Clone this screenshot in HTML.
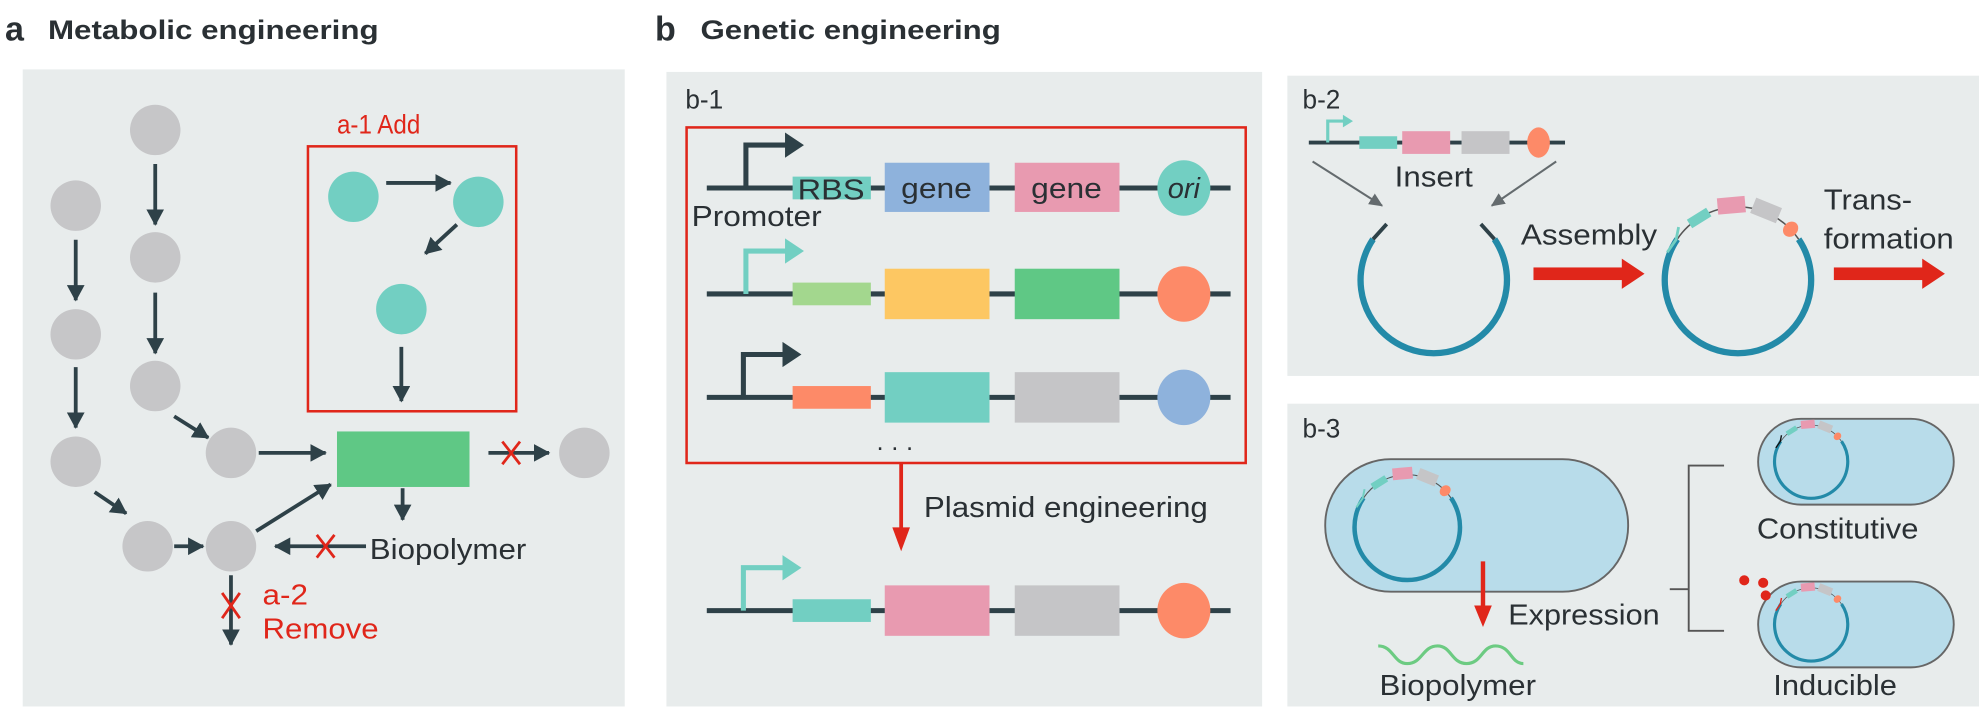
<!DOCTYPE html>
<html><head><meta charset="utf-8"><style>
html,body{margin:0;padding:0;background:#fff;width:1979px;height:709px;overflow:hidden}
svg{display:block}
text{font-family:"Liberation Sans",Arial,sans-serif}
</style></head><body>
<svg width="1979" height="709" viewBox="0 0 1568 562" preserveAspectRatio="none" xmlns="http://www.w3.org/2000/svg">
<defs>
<marker id="ah" markerUnits="userSpaceOnUse" markerWidth="14" markerHeight="14" refX="12" refY="7" orient="auto"><path d="M0,0 L13,7 L0,14 Z" fill="#2e4148"/></marker>
<marker id="ag" markerUnits="userSpaceOnUse" markerWidth="12" markerHeight="12" refX="10" refY="6" orient="auto"><path d="M0,1 L11,6 L0,11 Z" fill="#646b6e"/></marker>
<g id="pbody">
<path d="M-48.1,-32.4 A58,58 0 1,0 48.1,-32.4" fill="none" stroke="#238aa8" stroke-width="5"/>
<path d="M-48.1,-32.4 A58,58 0 0,1 48.1,-32.4" fill="none" stroke="#555" stroke-width="1.2"/>
<rect x="-9" y="-62" width="18" height="8" fill="#72cfc2" transform="rotate(-32)"/>
<rect x="-11" y="-66" width="22" height="13" fill="#e89ab0" transform="rotate(-5)"/>
<rect x="-11" y="-66" width="22" height="13" fill="#c5c5c7" transform="rotate(22)"/>
<ellipse cx="0" cy="-58" rx="5.5" ry="6.5" fill="#fd8a68" transform="rotate(46)"/>
</g>
<path id="prom" d="M-56,-22 L-49,-32 L-47,-42" fill="none" stroke-width="2.2"/>
</defs>

<!-- titles -->
<text x="4" y="32" font-size="27" font-weight="bold" fill="#2a3034">a</text>
<text x="38" y="31" font-size="21" font-weight="bold" fill="#2a3034" textLength="262" lengthAdjust="spacingAndGlyphs">Metabolic engineering</text>
<text x="519" y="32" font-size="27" font-weight="bold" fill="#2a3034">b</text>
<text x="555" y="31" font-size="21" font-weight="bold" fill="#2a3034" textLength="238" lengthAdjust="spacingAndGlyphs">Genetic engineering</text>

<!-- panels -->
<rect x="18" y="55" width="477" height="505" fill="#e8ecec"/>
<rect x="528" y="57" width="472" height="503" fill="#e8ecec"/>
<rect x="1020" y="60" width="548" height="238" fill="#e8ecec"/>
<rect x="1020" y="320" width="548" height="240" fill="#e8ecec"/>

<!-- panel a -->
<g fill="#c6c6c8">
<circle cx="60" cy="163" r="20"/><circle cx="60" cy="265" r="20"/><circle cx="60" cy="366" r="20"/>
<circle cx="123" cy="103" r="20"/><circle cx="123" cy="204" r="20"/><circle cx="123" cy="306" r="20"/>
<circle cx="183" cy="359" r="20"/><circle cx="117" cy="433" r="20"/><circle cx="183" cy="433" r="20"/>
<circle cx="463" cy="359" r="20"/>
</g>
<g fill="#72cfc2">
<circle cx="280" cy="156" r="20"/><circle cx="379" cy="160" r="20"/><circle cx="318" cy="245" r="20"/>
</g>
<rect x="244" y="116" width="165" height="210" fill="none" stroke="#e0261a" stroke-width="2"/>
<text x="267" y="106" font-size="21" fill="#e0261a" textLength="66" lengthAdjust="spacingAndGlyphs">a-1 Add</text>
<rect x="267" y="342" width="105" height="44" fill="#5fc885"/>
<g stroke="#2e4148" stroke-width="3" marker-end="url(#ah)">
<line x1="60" y1="190" x2="60" y2="238"/>
<line x1="60" y1="291" x2="60" y2="339"/>
<line x1="123" y1="130" x2="123" y2="178"/>
<line x1="123" y1="232" x2="123" y2="280"/>
<line x1="138" y1="330" x2="165" y2="347"/>
<line x1="75" y1="390" x2="100" y2="407"/>
<line x1="138" y1="433" x2="161" y2="433"/>
<line x1="205" y1="359" x2="258" y2="359"/>
<line x1="203" y1="421" x2="262" y2="384"/>
<line x1="319" y1="387" x2="319" y2="412"/>
<line x1="387" y1="359" x2="435" y2="359"/>
<line x1="290" y1="433" x2="218" y2="433"/>
<line x1="183" y1="456" x2="183" y2="511"/>
<line x1="306" y1="145" x2="357" y2="145"/>
<line x1="362" y1="178" x2="337" y2="201"/>
<line x1="318" y1="275" x2="318" y2="318"/>
</g>
<g stroke="#e0261a" stroke-width="2.2">
<line x1="398" y1="350" x2="412" y2="368"/><line x1="412" y1="350" x2="398" y2="368"/>
<line x1="251" y1="424" x2="265" y2="442"/><line x1="265" y1="424" x2="251" y2="442"/>
<line x1="176" y1="470" x2="190" y2="490"/><line x1="190" y1="470" x2="176" y2="490"/>
</g>
<text x="293" y="443" font-size="23" fill="#2a3034" textLength="124" lengthAdjust="spacingAndGlyphs">Biopolymer</text>
<text x="208" y="479" font-size="23" fill="#e0261a" textLength="36" lengthAdjust="spacingAndGlyphs">a-2</text>
<text x="208" y="506" font-size="23" fill="#e0261a" textLength="92" lengthAdjust="spacingAndGlyphs">Remove</text>

<!-- panel b-1 -->
<text x="543" y="86" font-size="21" fill="#2a3034" textLength="30" lengthAdjust="spacingAndGlyphs">b-1</text>
<rect x="544" y="101" width="443" height="266" fill="none" stroke="#e0261a" stroke-width="2"/>
<g stroke="#2e4148" stroke-width="4">
<line x1="560" y1="149" x2="975" y2="149"/>
<line x1="560" y1="233" x2="975" y2="233"/>
<line x1="560" y1="315" x2="975" y2="315"/>
<line x1="560" y1="484" x2="975" y2="484"/>
</g>
<g fill="none" stroke-width="4">
<path d="M591,149 V115 H624" stroke="#2e4148"/>
<path d="M591,233 V199 H624" stroke="#72cfc2"/>
<path d="M589,315 V281 H622" stroke="#2e4148"/>
<path d="M589,484 V450 H622" stroke="#72cfc2"/>
</g>
<path d="M622,105 L637,115 L622,125 Z" fill="#2e4148"/>
<path d="M622,189 L637,199 L622,209 Z" fill="#72cfc2"/>
<path d="M620,271 L635,281 L620,291 Z" fill="#2e4148"/>
<path d="M620,440 L635,450 L620,460 Z" fill="#72cfc2"/>
<text x="548" y="179" font-size="23" fill="#2a3034" textLength="103" lengthAdjust="spacingAndGlyphs">Promoter</text>
<rect x="628" y="140" width="62" height="18" fill="#72cfc2"/>
<text x="632" y="158" font-size="23" fill="#2a3034" textLength="53" lengthAdjust="spacingAndGlyphs">RBS</text>
<rect x="701" y="129" width="83" height="39" fill="#8eb2dc"/>
<rect x="804" y="129" width="83" height="39" fill="#e89ab0"/>
<text x="742" y="157" font-size="23" fill="#2a3034" text-anchor="middle" textLength="56" lengthAdjust="spacingAndGlyphs">gene</text>
<text x="845" y="157" font-size="23" fill="#2a3034" text-anchor="middle" textLength="56" lengthAdjust="spacingAndGlyphs">gene</text>
<ellipse cx="938" cy="149" rx="21" ry="22" fill="#72cfc2"/>
<text x="938" y="157" font-size="23" font-style="italic" fill="#2a3034" text-anchor="middle">ori</text>
<rect x="628" y="224" width="62" height="18" fill="#a3d78e"/>
<rect x="701" y="213" width="83" height="40" fill="#fdc762"/>
<rect x="804" y="213" width="83" height="40" fill="#5fc885"/>
<ellipse cx="938" cy="233" rx="21" ry="22" fill="#fd8a68"/>
<rect x="628" y="306" width="62" height="18" fill="#fd8a68"/>
<rect x="701" y="295" width="83" height="40" fill="#72cfc2"/>
<rect x="804" y="295" width="83" height="40" fill="#c5c5c7"/>
<ellipse cx="938" cy="315" rx="21" ry="22" fill="#8eb2dc"/>
<text x="694" y="361" font-size="20" fill="#2a3034" letter-spacing="5">···</text>
<line x1="714" y1="367" x2="714" y2="420" stroke="#e0261a" stroke-width="3"/>
<path d="M707,418 L714,437 L721,418 Z" fill="#e0261a"/>
<text x="732" y="410" font-size="23" fill="#2a3034" textLength="225" lengthAdjust="spacingAndGlyphs">Plasmid engineering</text>
<rect x="628" y="475" width="62" height="18" fill="#72cfc2"/>
<rect x="701" y="464" width="83" height="40" fill="#e89ab0"/>
<rect x="804" y="464" width="83" height="40" fill="#c5c5c7"/>
<ellipse cx="938" cy="484" rx="21" ry="22" fill="#fd8a68"/>

<!-- panel b-2 -->
<text x="1032" y="86" font-size="21" fill="#2a3034" textLength="30" lengthAdjust="spacingAndGlyphs">b-2</text>
<line x1="1037" y1="113" x2="1240" y2="113" stroke="#2e4148" stroke-width="3"/>
<path d="M1052,113 V96 H1066" fill="none" stroke="#72cfc2" stroke-width="2.5"/>
<path d="M1064,91 L1072,96 L1064,101 Z" fill="#72cfc2"/>
<rect x="1077" y="108" width="30" height="10" fill="#72cfc2"/>
<rect x="1111" y="104" width="38" height="18" fill="#e89ab0"/>
<rect x="1158" y="104" width="38" height="18" fill="#c5c5c7"/>
<ellipse cx="1219" cy="113" rx="9" ry="12" fill="#fd8a68"/>
<text x="1105" y="148" font-size="23" fill="#2a3034" textLength="62" lengthAdjust="spacingAndGlyphs">Insert</text>
<g stroke="#646b6e" stroke-width="1.6" marker-end="url(#ag)">
<line x1="1040" y1="128" x2="1095" y2="163"/>
<line x1="1233" y1="128" x2="1182" y2="163"/>
</g>
<g transform="translate(1136,222)">
<path d="M-48.1,-32.4 A58,58 0 1,0 48.1,-32.4" fill="none" stroke="#238aa8" stroke-width="5"/>
<path d="M-48.1,-32.4 L-37.3,-44.4 M48.1,-32.4 L37.3,-44.4" stroke="#2e4148" stroke-width="3"/>
</g>
<text x="1205" y="194" font-size="23" fill="#2a3034" textLength="108" lengthAdjust="spacingAndGlyphs">Assembly</text>
<rect x="1215" y="212" width="72" height="10" fill="#e0261a"/>
<path d="M1285,205 L1303,217 L1285,229 Z" fill="#e0261a"/>
<g transform="translate(1377,222)">
<use href="#pbody"/>
<use href="#prom" stroke="#72cfc2"/>
</g>
<text x="1445" y="166" font-size="23" fill="#2a3034" textLength="70" lengthAdjust="spacingAndGlyphs">Trans-</text>
<text x="1445" y="197" font-size="23" fill="#2a3034" textLength="103" lengthAdjust="spacingAndGlyphs">formation</text>
<rect x="1453" y="212" width="72" height="10" fill="#e0261a"/>
<path d="M1523,205 L1541,217 L1523,229 Z" fill="#e0261a"/>

<!-- panel b-3 -->
<text x="1032" y="347" font-size="21" fill="#2a3034" textLength="30" lengthAdjust="spacingAndGlyphs">b-3</text>
<rect x="1050" y="364" width="240" height="105" rx="52" fill="#b8dcea" stroke="#666" stroke-width="1.5"/>
<g transform="translate(1115,418) scale(0.72)">
<use href="#pbody"/>
<use href="#prom" stroke="#72cfc2"/>
</g>
<line x1="1175" y1="445" x2="1175" y2="482" stroke="#e0261a" stroke-width="3.5"/>
<path d="M1168,480 L1175,497 L1182,480 Z" fill="#e0261a"/>
<text x="1195" y="495" font-size="23" fill="#2a3034" textLength="120" lengthAdjust="spacingAndGlyphs">Expression</text>
<path d="M1092,512 C1104,512 1104,526 1115,526 C1127,526 1127,512 1139,512 C1150,512 1150,526 1162,526 C1174,526 1174,512 1185,512 C1197,512 1197,526 1207,526" fill="none" stroke="#6ccb82" stroke-width="2.5"/>
<text x="1093" y="551" font-size="23" fill="#2a3034" textLength="124" lengthAdjust="spacingAndGlyphs">Biopolymer</text>
<path d="M1366,369 H1338 V500 H1366 M1323,467 H1338" fill="none" stroke="#555" stroke-width="1.5"/>
<rect x="1393" y="332" width="155" height="68" rx="34" fill="#b8dcea" stroke="#666" stroke-width="1.5"/>
<rect x="1393" y="461" width="155" height="68" rx="34" fill="#b8dcea" stroke="#666" stroke-width="1.5"/>
<g transform="translate(1435,366) scale(0.5)">
<use href="#pbody"/>
<use href="#prom" stroke="#111"/>
</g>
<g transform="translate(1435,495) scale(0.5)">
<use href="#pbody"/>
<use href="#prom" stroke="#e0261a"/>
</g>
<circle cx="1382" cy="460" r="4" fill="#e0261a"/>
<circle cx="1397" cy="462" r="4" fill="#e0261a"/>
<circle cx="1399" cy="472" r="4" fill="#e0261a"/>
<text x="1392" y="427" font-size="23" fill="#2a3034" textLength="128" lengthAdjust="spacingAndGlyphs">Constitutive</text>
<text x="1405" y="551" font-size="23" fill="#2a3034" textLength="98" lengthAdjust="spacingAndGlyphs">Inducible</text>
</svg>
</body></html>
